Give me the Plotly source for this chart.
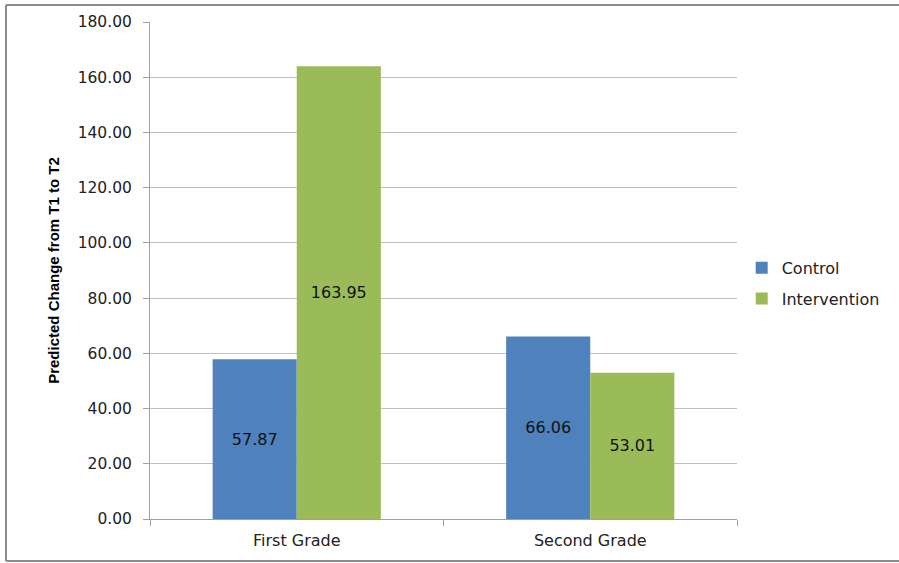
import plotly.graph_objects as go

categories = ["First Grade", "Second Grade"]
control = [57.87, 66.06]
intervention = [163.95, 53.01]
y_ticks = [0, 20, 40, 60, 80, 100, 120, 140, 160, 180]
y_tick_labels = ["0.00", "20.00", "40.00", "60.00", "80.00", "100.00", "120.00", "140.00", "160.00", "180.00"]

FONT = "DejaVu Sans"

fig = go.Figure()
fig.add_trace(go.Bar(
    name="Control", x=categories, y=control,
    marker=dict(color="#4F81BD", line=dict(width=0)),
    text=[f"{v:.2f}" for v in control], textposition="inside",
    insidetextanchor="middle", textangle=0,
    insidetextfont=dict(family=FONT, size=16, color="#111111"),
    legendgroup="a",
))
fig.add_trace(go.Bar(
    name="Intervention", x=categories, y=intervention,
    marker=dict(color="#9BBB59", line=dict(width=0)),
    text=[f"{v:.2f}" for v in intervention], textposition="inside",
    insidetextanchor="middle", textangle=0,
    insidetextfont=dict(family=FONT, size=16, color="#111111"),
    legendgroup="b",
))

bx0 = (6 - 150) / 587
bx1 = (899 - 150) / 587
by0 = (519 - 561) / 497
by1 = (519 - 5) / 497
border = dict(color="#8C8C8C", width=2)

fig.update_layout(
    width=899, height=563,
    margin=dict(l=150, r=162, t=22, b=44, autoexpand=False),
    paper_bgcolor="white", plot_bgcolor="white",
    barmode="group", bargap=0.427, bargroupgap=0,
    font=dict(family=FONT, size=15, color="#222222"),
    showlegend=True,
    legend=dict(x=1.008, y=0.474, xanchor="left", yanchor="middle",
                font=dict(family=FONT, size=16, color="#222222"),
                tracegroupgap=7, itemwidth=30, bgcolor="rgba(0,0,0,0)"),
    xaxis=dict(
        showline=True, linecolor="#A0A0A0", linewidth=1,
        ticks="outside", ticklen=6, tickcolor="#A0A0A0",
        tickson="boundaries", showgrid=False, ticklabelstandoff=7,
        tickfont=dict(family=FONT, size=16, color="#222222"),
    ),
    yaxis=dict(
        range=[0, 180], tickvals=y_ticks, ticktext=y_tick_labels,
        showline=True, linecolor="#A0A0A0", linewidth=1,
        ticks="outside", ticklen=6, tickcolor="#A0A0A0",
        showgrid=True, gridcolor="#C0C0C0", gridwidth=1,
        zeroline=False, ticklabelstandoff=8,
        tickfont=dict(family=FONT, size=15.5, color="#222222"),
        title=dict(text="<b>Predicted Change from T1 to T2</b>",
                   font=dict(family="Liberation Sans", size=15, color="#000000"),
                   standoff=14),
    ),
    shapes=[
        dict(type="line", xref="paper", yref="paper", x0=bx0, x1=bx1, y0=by1, y1=by1, line=border, layer="below"),
        dict(type="line", xref="paper", yref="paper", x0=bx0, x1=bx1, y0=by0, y1=by0, line=border, layer="below"),
        dict(type="line", xref="paper", yref="paper", x0=bx0, x1=bx0, y0=by0, y1=by1, line=border, layer="below"),
    ],
)

fig.write_html("out.html")
